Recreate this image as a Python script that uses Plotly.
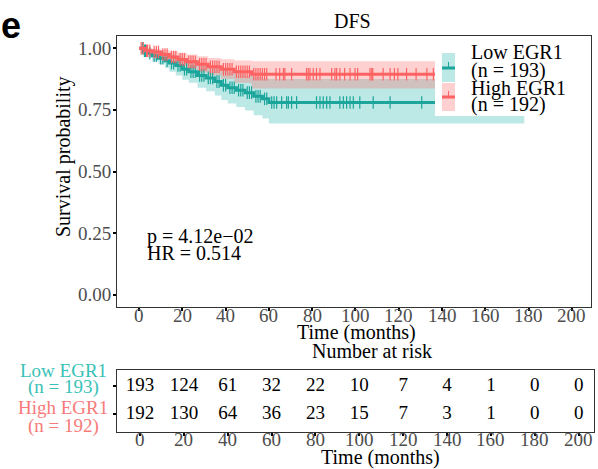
import numpy as np
import plotly.graph_objects as go

# ---------------- data ----------------
groups = ["Low EGR1", "High EGR1"]
group_n = [193, 192]

# Low EGR1 KM step curve
low_t = [0, 2, 4, 6, 9, 12, 14, 17, 20, 23, 27, 31, 35, 38, 41, 45, 49, 53, 57, 60, 178]
low_s = [1.0, 0.99, 0.98, 0.97, 0.96, 0.95, 0.94, 0.93, 0.915, 0.905, 0.89, 0.88, 0.865, 0.85, 0.84, 0.83, 0.82, 0.805, 0.795, 0.78, 0.78]
low_lo = [1.0, 0.975, 0.962, 0.948, 0.935, 0.92, 0.905, 0.89, 0.872, 0.86, 0.84, 0.826, 0.808, 0.79, 0.776, 0.762, 0.748, 0.728, 0.715, 0.695, 0.695]
low_hi = [1.0, 1.0, 0.998, 0.99, 0.985, 0.98, 0.975, 0.968, 0.958, 0.952, 0.94, 0.932, 0.922, 0.912, 0.905, 0.898, 0.89, 0.885, 0.878, 0.875, 0.875]
low_cens = [1.5, 2.5, 3, 5, 7, 8, 10, 11, 13, 15, 16, 18, 19, 21, 22, 24, 25, 26, 28, 29, 30, 32, 33, 34,
            36, 37, 39, 40, 42, 43, 44, 46, 47, 48, 50, 51, 52, 54, 55, 56, 58, 59,
            61.3, 62.4, 63.6, 65.9, 68.2, 69, 70.5, 72.8, 82, 83.6, 85.1, 86.7, 88.2, 92.8, 94.4, 95.9,
            97.5, 99, 102, 108.2, 116, 130.6, 145, 160, 172]

# High EGR1 KM step curve
high_t = [0, 3, 6, 10, 14, 18, 22, 27, 32, 38, 44, 52, 165]
high_s = [1.0, 0.99, 0.985, 0.975, 0.965, 0.955, 0.945, 0.935, 0.925, 0.915, 0.905, 0.895, 0.895]
high_lo = [1.0, 0.976, 0.968, 0.955, 0.94, 0.928, 0.915, 0.902, 0.89, 0.875, 0.86, 0.837, 0.837]
high_hi = [1.0, 1.0, 0.998, 0.993, 0.988, 0.982, 0.975, 0.968, 0.961, 0.956, 0.951, 0.948, 0.948]
high_cens = [1, 2, 3.5, 4, 5, 7, 8, 9, 11, 12, 13, 15, 16, 17, 19, 20, 21, 23, 24, 25, 26, 28, 29, 30, 31,
             33, 34, 35, 36, 37, 39, 40, 41, 42, 43, 45, 46, 47, 48, 49, 50, 51, 53, 54, 55, 56, 57, 58, 59,
             63.3, 65, 66.7, 67.4, 70.5, 77.4, 78.2, 79, 80.5, 82, 83.6, 89, 90.5, 91.3, 92.8, 95, 97.5,
             99.8, 101, 106.7, 107.5, 108, 112.8, 116, 118, 119.6, 123.6, 128, 133, 136, 150, 160]

risk_times = [0, 20, 40, 60, 80, 100, 120, 140, 160, 180, 200]
risk_low = [193, 124, 61, 32, 22, 10, 7, 4, 1, 0, 0]
risk_high = [192, 130, 64, 36, 23, 15, 7, 3, 1, 0, 0]

x_ticks = [0, 20, 40, 60, 80, 100, 120, 140, 160, 180, 200]
y_ticks = [0, 0.25, 0.5, 0.75, 1.0]
p_text = "p = 4.12e\u221202"
hr_text = "HR = 0.514"

# ---------------- styles ----------------
W, H = 598, 469
SERIF = "Liberation Serif"
teal_line = "#1BA59B"
red_line = "#FF6262"
teal_fill = "rgba(32,178,170,0.30)"
red_fill = "rgba(255,100,100,0.30)"
teal_text = "#38C1B7"
red_text = "#F87A7A"
tick_col = "#4D4D4D"

def px(x):
    return x / W

def py(y):
    return 1 - y / H

def step_at(times, surv, q):
    idx = np.searchsorted(np.array(times), np.array(q), side="right") - 1
    return np.array(surv)[idx]

fig = go.Figure()

# CI bands
for t, lo, hi, fc in [(low_t, low_lo, low_hi, teal_fill), (high_t, high_lo, high_hi, red_fill)]:
    fig.add_trace(go.Scatter(x=t, y=lo, mode="lines", line=dict(width=0, shape="hv"),
                             showlegend=False, hoverinfo="skip", xaxis="x", yaxis="y"))
    fig.add_trace(go.Scatter(x=t, y=hi, mode="lines", line=dict(width=0, shape="hv"),
                             fill="tonexty", fillcolor=fc, showlegend=False, hoverinfo="skip",
                             xaxis="x", yaxis="y"))

# KM lines + censor marks
for t, s, cens, col in [(low_t, low_s, low_cens, teal_line), (high_t, high_s, high_cens, red_line)]:
    fig.add_trace(go.Scatter(x=t, y=s, mode="lines", line=dict(color=col, width=3, shape="hv"),
                             showlegend=False, xaxis="x", yaxis="y"))
    fig.add_trace(go.Scatter(x=cens, y=step_at(t, s, cens), mode="markers",
                             marker=dict(symbol="line-ns-open", size=9, color=col,
                                         line=dict(color=col, width=1.2)),
                             showlegend=False, xaxis="x", yaxis="y"))

# risk table numbers
fig.add_trace(go.Scatter(x=risk_times, y=[1] * len(risk_times), mode="text",
                         text=[str(v) for v in risk_low], textfont=dict(family=SERIF, size=19, color="black"),
                         showlegend=False, xaxis="x2", yaxis="y2"))
fig.add_trace(go.Scatter(x=risk_times, y=[0] * len(risk_times), mode="text",
                         text=[str(v) for v in risk_high], textfont=dict(family=SERIF, size=19, color="black"),
                         showlegend=False, xaxis="x2", yaxis="y2"))

axis_common = dict(showgrid=False, zeroline=False, showline=True, linecolor="#333333", linewidth=1,
                   mirror=True, ticks="outside", ticklen=3, tickcolor="black", tickwidth=1.5,
                   showticklabels=False)

fig.update_layout(
    width=W, height=H, margin=dict(l=0, r=0, t=0, b=0),
    paper_bgcolor="white", plot_bgcolor="white", showlegend=False,
    xaxis=dict(domain=[px(117), px(591)], range=[-10.16, 208.8], tickvals=x_ticks,
               anchor="y", **axis_common),
    yaxis=dict(domain=[py(307), py(36)], range=[-0.05, 1.05], tickvals=y_ticks,
               anchor="x", **axis_common),
    xaxis2=dict(domain=[px(117), px(594)], range=[-10.5, 207], tickvals=x_ticks,
                anchor="y2", **axis_common),
    yaxis2=dict(domain=[py(432), py(370)], range=[-0.643, 1.571], tickvals=[0, 1],
                anchor="x2", **axis_common),
)

ann = []
def txt(x, y, s, size=20, color="black", xanchor="center", family=SERIF, textangle=0):
    ann.append(dict(x=px(x), y=py(y), xref="paper", yref="paper", text=s, showarrow=False,
                    xanchor=xanchor, yanchor="middle", textangle=textangle,
                    font=dict(family=family, size=size, color=color)))

# tick labels placed via the axes' own scales
for v in x_ticks:
    ann.append(dict(x=v, y=py(315), xref="x", yref="paper", text=str(v), showarrow=False,
                    xanchor="center", yanchor="middle", font=dict(family=SERIF, size=19, color=tick_col)))
    ann.append(dict(x=v, y=py(439), xref="x2", yref="paper", text=str(v), showarrow=False,
                    xanchor="center", yanchor="middle", font=dict(family=SERIF, size=19, color=tick_col)))
for v in y_ticks:
    ann.append(dict(x=px(113), y=v, xref="paper", yref="y", text="%.2f" % v, showarrow=False,
                    xanchor="right", yanchor="middle", font=dict(family=SERIF, size=19, color=tick_col)))

txt(11, 25, "<b>e</b>", size=36, family="Liberation Sans")
txt(352, 21, "DFS", size=20)
txt(63, 157, "Survival probability", size=20, textangle=-90)
txt(356, 332, "Time (months)", size=20)
txt(372, 351, "Number at risk", size=20)
txt(380, 457, "Time (months)", size=20)
txt(145, 237, p_text, size=20, xanchor="left")
txt(145, 253, hr_text, size=20, xanchor="left")

# risk table group labels
txt(63, 370, groups[0], size=19, color=teal_text)
txt(63, 387, "(n = %d)" % group_n[0], size=19, color=teal_text)
txt(63, 407, groups[1], size=19, color=red_text)
txt(63, 426, "(n = %d)" % group_n[1], size=19, color=red_text)

# legend
txt(469, 52, groups[0], size=20, xanchor="left")
txt(469, 70, "(n = %d)" % group_n[0], size=20, xanchor="left")
txt(469, 88, groups[1], size=20, xanchor="left")
txt(469, 105, "(n = %d)" % group_n[1], size=20, xanchor="left")
fig.update_layout(annotations=ann)

shapes = []
def rect(x0, y0, x1, y1, fill):
    shapes.append(dict(type="rect", xref="paper", yref="paper", x0=px(x0), x1=px(x1), y0=py(y1), y1=py(y0),
                       fillcolor=fill, line=dict(width=0), layer="above"))
def line(x0, y0, x1, y1, col, w):
    shapes.append(dict(type="line", xref="paper", yref="paper", x0=px(x0), x1=px(x1), y0=py(y0), y1=py(y1),
                       line=dict(color=col, width=w), layer="above"))

rect(435, 44, 590, 116, "white")
rect(442, 53, 455, 82, teal_fill)
rect(442, 83, 455, 111, red_fill)
line(442, 68, 455, 68, teal_line, 3)
line(448.5, 62, 448.5, 68, teal_line, 1)
line(442, 97, 455, 97, red_line, 3)
line(448.5, 91, 448.5, 97, red_line, 1)
fig.update_layout(shapes=shapes)

fig.write_html("out.html", config={"displayModeBar": False},
               post_script="document.body.style.margin='0';document.body.style.overflow='hidden';")
